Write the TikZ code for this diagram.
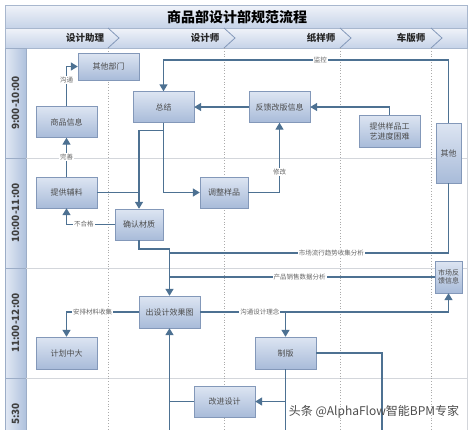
\documentclass[tikz,border=0pt]{standalone}
\usepackage{fontspec}
\setmainfont{Noto Sans CJK SC}
\usetikzlibrary{arrows.meta,positioning,calc}
\definecolor{linec}{HTML}{4D7192}
\definecolor{boxtop}{HTML}{DDE5F2}
\definecolor{boxbot}{HTML}{A8BBD9}
\definecolor{boxdraw}{HTML}{8398B9}
\definecolor{bartop}{HTML}{F0F3F9}
\definecolor{barbot}{HTML}{C6D3E8}
\definecolor{colleft}{HTML}{E2E9F4}
\definecolor{colright}{HTML}{AFC1DD}
\definecolor{lanec}{HTML}{ABABAB}
\definecolor{gridc}{HTML}{D3D6DB}

\begin{document}
\begin{tikzpicture}[x=1pt, y=-1pt,
    box/.style={draw=boxdraw, top color=boxtop, bottom color=boxbot,
                minimum width=61pt, minimum height=31pt, inner sep=1pt,
                font=\fontsize{8}{10}\selectfont, text=black!70, align=center},
    sbox/.style={box, minimum width=48pt},
    flow/.style={draw=linec, line width=1.4pt},
    arr/.style={flow, -{Triangle[length=7pt, width=8pt]}},
    elbl/.style={fill=white, inner sep=1pt, font=\fontsize{6.5}{7}\selectfont, text=black!60},
    lanelbl/.style={font=\fontsize{9.5}{10}\selectfont\bfseries, text=black!85},
    timelbl/.style={rotate=90, font=\fontsize{10}{10}\selectfont\bfseries, text=black!75},
  ]
    \useasboundingbox (0,0) rectangle (474,429);
    \clip (0,0) rectangle (474,429);

    % frame, title and lane headers
    \draw[gridc] (5,5) rectangle (467,440);
    \shade[top color=bartop, bottom color=barbot, draw=boxdraw!70] (5,5) rectangle (467,28);
    \node[font=\fontsize{14}{14}\selectfont\bfseries] (title) at (237,17) {商品部设计部规范流程};
    \shade[top color=bartop, bottom color=barbot, draw=boxdraw!70] (5,28) rectangle (467,48);
    \foreach \x in {108,224,340,431}
      \draw[boxdraw, thick] (\x,28) -- (\x+11,38) -- (\x,48);
    \node[lanelbl] (lane1) at (85,38) {设计助理};
    \node[lanelbl] (lane2) at (205,38) {设计师};
    \node[lanelbl] (lane3) at (321,38) {纸样师};
    \node[lanelbl] (lane4) at (411,38) {车版师};

    % time rows
    \foreach \ya/\yb/\t in {48/158/9:00-10:00, 158/268/10:00-11:00,
                            268/378/11:00-12:00} {
      \shade[left color=colleft, right color=colright, draw=boxdraw!80] (5,\ya) rectangle (26,\yb);
      \node[timelbl] at (15.5,{(\ya+\yb)/2}) {\t};
    }
    \shade[left color=colleft, right color=colright, draw=boxdraw!80] (5,378) rectangle (26,488);
    \node[timelbl] (last) at (15.5,414) {5:30};
    \foreach \y in {158,268,378}
      \draw[gridc] (26,\y) -- (467,\y);
    \foreach \x in {108,224,340,431}
      \draw[lanec, dotted, thick] (\x,48) -- (\x,440);

    % steps
    \node[box, minimum height=27pt] (other) at (108.5,66.5) {其他部门};
    \node[box] (info) at (66.5,122) {商品信息};
    \node[box] (supply) at (66.5,192.5) {提供辅料};
    \node[sbox] (check) at (139,224.5) {确认材质};
    \node[box] (summary) at (163.5,107) {总结};
    \node[box] (feedback) at (279.5,107) {反馈改版信息};
    \node[box, minimum height=32pt] (trouble) at (389.5,131) {提供样品工\\艺进度困难};
    \node[box, minimum width=25pt, minimum height=60pt] (misc) at (448.5,153) {其他};
    \node[sbox] (adjust) at (224,192.5) {调整样品};
    \node[box, minimum width=27pt, minimum height=32pt, inner sep=0pt,
          font=\fontsize{7}{8}\selectfont] (market) at (448.5,277) {市场反\\馈信息};
    \node[box, minimum height=32pt] (render) at (169.5,312) {出设计效果图};
    \node[box, minimum height=32pt] (plan) at (66.5,353) {计划中大};
    \node[box, minimum height=32pt] (pattern) at (285.5,353) {制版};
    \node[box] (improve) at (224.5,401.5) {改进设计};

    % free ends below the cut
    \coordinate (hub) at (render.north |- 0,249);
    \coordinate (endA) at (render.south |- 0,440);
    \coordinate (endB) at (pattern.south |- 0,440);
    \coordinate (endC) at (382,440);

    % connectors
    \draw[arr] (info.north) |- node[elbl, pos=0.33] {沟通} (other.west);
    \draw[arr] (supply.north) -- node[elbl] {完善} (info.south);
    \draw[arr] (check.west) -| node[elbl, pos=0.32] {不合格} (supply.south);
    \draw[flow] (supply.east) -- (supply.east -| check.north);
    \draw[arr] (summary.south) -- ++(0,8) -| (check.north);
    \draw[arr] (summary.south) |- (adjust.west);
    \draw[arr] (adjust.east) -| node[elbl, pos=0.65] {修改} (feedback.south);
    \draw[arr] (feedback.west) -- (summary.east);
    \draw[arr] (trouble.north) |- (feedback.east);
    \draw[arr] (misc.north) -- (misc.north |- 0,60)
      -- node[elbl, pos=0.45] {监控} (summary.north |- 0,60) -- (summary.north);
    \draw[arr] (check.south) |- (hub) -- (render.north);
    \draw[flow] (misc.south) |- node[elbl, pos=0.71] {市场流行趋势收集分析} (render.north |- 0,253);
    \draw[flow] (market.west) -- node[elbl, pos=0.51] {产品销售数据分析} (render.north |- market.west);
    \draw[arr] (render.west) -| node[elbl, pos=0.32] {安排材料收集} (plan.north);
    \draw[arr] (render.east) -| node[elbl, pos=0.12] {沟通设计理念} (market.south);
    \draw[arr] (render.east -| pattern.north) -- (pattern.north);
    \draw[flow] (pattern.south) -- (endB);
    \draw[arr] (pattern.south |- improve.east) -- (improve.east);
    \draw[flow] (pattern.east) -| (endC);
    \draw[flow] (improve.west) -- (render.south |- improve.west);
    \draw[arr] (endA) -- (render.south);

    % watermark
    \node[font=\fontsize{12}{12}\selectfont, text=black!70] (mark) at (374,412) {头条 @AlphaFlow智能BPM专家};
\end{tikzpicture}
\end{document}
